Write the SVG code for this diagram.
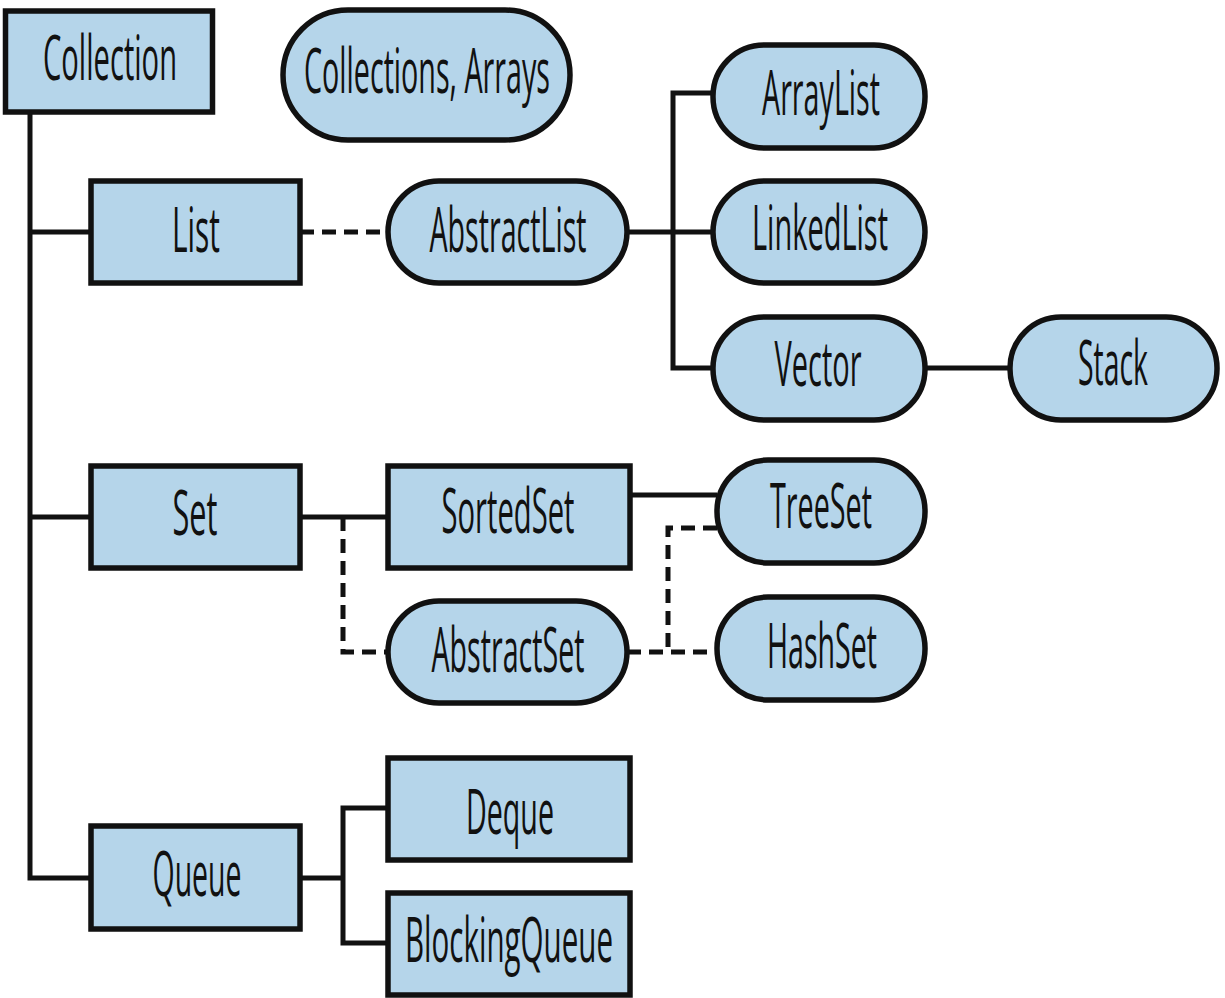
<svg xmlns="http://www.w3.org/2000/svg" width="1225" height="998" viewBox="0 0 1225 998">
  <style>
    .box { fill: #b5d5ea; stroke: #111; stroke-width: 5.5; }
    .line { fill: none; stroke: #111; stroke-width: 5; }
    .dash { fill: none; stroke: #111; stroke-width: 5; stroke-dasharray: 14 8; }
    text { font-family: "Open Sans", "Liberation Sans", sans-serif; font-size: 62px; fill: #111; text-anchor: middle; }
  </style>
  <rect width="1225" height="998" fill="#ffffff"/>

  <g id="connectors">
    <!-- Collection trunk -->
    <path class="line" d="M30 113 V878 H90"/>
    <path class="line" d="M30 232 H90"/>
    <path class="line" d="M30 517 H90"/>
    <!-- List -> AbstractList -->
    <path class="dash" d="M300 232 H388"/>
    <!-- AbstractList -> ArrayList / LinkedList / Vector -->
    <path class="line" d="M627 232 H713"/>
    <path class="line" d="M713 93 H673 V368 H713"/>
    <!-- Vector -> Stack -->
    <path class="line" d="M925 368 H1010"/>
    <!-- Set -> SortedSet, AbstractSet -->
    <path class="line" d="M300 517 H388"/>
    <path class="dash" d="M343 517 V652 H388"/>
    <!-- SortedSet -> TreeSet -->
    <path class="line" d="M630 495 H717"/>
    <!-- AbstractSet -> TreeSet, HashSet -->
    <path class="dash" d="M627 652 H717"/>
    <path class="dash" d="M717 528 H668 V652"/>
    <!-- Queue -> Deque, BlockingQueue -->
    <path class="line" d="M300 878 H343"/>
    <path class="line" d="M388 808 H343 V943 H388"/>
  </g>

  <g id="collection">
    <rect class="box" x="5.5" y="11" width="207" height="101"/>
    <text x="110" y="80" textLength="134" lengthAdjust="spacingAndGlyphs">Collection</text>
  </g>
  <g id="collections-arrays">
    <rect class="box" x="283" y="10" width="287" height="130" rx="65"/>
    <text x="427" y="93" textLength="246" lengthAdjust="spacingAndGlyphs">Collections, Arrays</text>
  </g>
  <g id="list">
    <rect class="box" x="91" y="181" width="209" height="102"/>
    <text x="196" y="252" textLength="48" lengthAdjust="spacingAndGlyphs">List</text>
  </g>
  <g id="abstract-list">
    <rect class="box" x="388" y="181" width="239" height="102" rx="51"/>
    <text x="508" y="252" textLength="157" lengthAdjust="spacingAndGlyphs">AbstractList</text>
  </g>
  <g id="array-list">
    <rect class="box" x="713" y="45" width="212" height="103" rx="51"/>
    <text x="821" y="115" textLength="118" lengthAdjust="spacingAndGlyphs">ArrayList</text>
  </g>
  <g id="linked-list">
    <rect class="box" x="713" y="181" width="212" height="102" rx="51"/>
    <text x="820" y="250" textLength="136" lengthAdjust="spacingAndGlyphs">LinkedList</text>
  </g>
  <g id="vector">
    <rect class="box" x="713" y="317" width="212" height="103" rx="51"/>
    <text x="818" y="386" textLength="87" lengthAdjust="spacingAndGlyphs">Vector</text>
  </g>
  <g id="stack">
    <rect class="box" x="1010" y="317" width="207" height="103" rx="51"/>
    <text x="1113" y="385" textLength="70" lengthAdjust="spacingAndGlyphs">Stack</text>
  </g>
  <g id="set">
    <rect class="box" x="91" y="466" width="209" height="102"/>
    <text x="195" y="535" textLength="45" lengthAdjust="spacingAndGlyphs">Set</text>
  </g>
  <g id="sorted-set">
    <rect class="box" x="388" y="466" width="242" height="102"/>
    <text x="508" y="533" textLength="133" lengthAdjust="spacingAndGlyphs">SortedSet</text>
  </g>
  <g id="tree-set">
    <rect class="box" x="717" y="460" width="208" height="103" rx="51"/>
    <text x="821" y="528" textLength="102" lengthAdjust="spacingAndGlyphs">TreeSet</text>
  </g>
  <g id="abstract-set">
    <rect class="box" x="388" y="601" width="239" height="102" rx="51"/>
    <text x="508" y="672" textLength="153" lengthAdjust="spacingAndGlyphs">AbstractSet</text>
  </g>
  <g id="hash-set">
    <rect class="box" x="717" y="597" width="208" height="103" rx="51"/>
    <text x="822" y="668" textLength="110" lengthAdjust="spacingAndGlyphs">HashSet</text>
  </g>
  <g id="queue">
    <rect class="box" x="91" y="826" width="209" height="103"/>
    <text x="197" y="896" textLength="89" lengthAdjust="spacingAndGlyphs">Queue</text>
  </g>
  <g id="deque">
    <rect class="box" x="388" y="758" width="242" height="102"/>
    <text x="510" y="834" textLength="88" lengthAdjust="spacingAndGlyphs">Deque</text>
  </g>
  <g id="blocking-queue">
    <rect class="box" x="388" y="893" width="242" height="102"/>
    <text x="509" y="962" textLength="208" lengthAdjust="spacingAndGlyphs">BlockingQueue</text>
  </g>
</svg>
